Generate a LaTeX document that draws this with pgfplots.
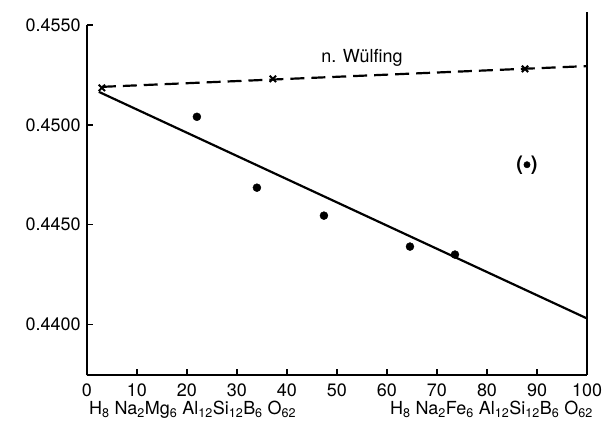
\documentclass[border=0pt]{standalone}
\usepackage{fontspec}
\setmainfont{TeX Gyre Heros}
\usepackage{pgfplots}
\pgfplotsset{compat=1.18}
\begin{document}
\fontsize{18}{20}\selectfont
\begin{tikzpicture}
\begin{axis}[
  scale only axis, width=501pt, height=351pt,
  xmin=0, xmax=100, ymin=0.43745, ymax=0.4550,
  axis x line=bottom, axis y line=left,
  axis line style={-, line width=2pt},
  xtick={0,10,...,100}, ytick={0.440,0.445,0.450,0.455},
  tick align=inside, major tick length=6pt,
  tick style={line width=1.6pt, black},
  scaled y ticks=false,
  yticklabel style={/pgf/number format/.cd, fixed, fixed zerofill, precision=4},
  /pgf/number format/assume math mode=true,
  ticklabel style={font=\fontsize{18}{20}\selectfont},
  xticklabel style={yshift=-2pt},
  clip=false,
]
\addplot[line width=2.2pt, dash pattern=on 14pt off 7pt] coordinates {(3,0.45190) (100,0.45294)};
\addplot[line width=2.2pt] coordinates {(2.4,0.45165) (100,0.4403)};
\addplot[only marks, mark=x, mark size=4.5pt, mark options={line width=2pt}] coordinates {(3,0.45185) (37.2,0.4523) (87.6,0.4528)};
\addplot[only marks, mark=*, mark size=4pt] coordinates {(22,0.4504) (34,0.44685) (47.4,0.44545) (64.6,0.4439) (73.6,0.4435)};
\addplot[only marks, mark=*, mark size=3.2pt, nodes near coords={(\hspace{8pt})},
  every node near coord/.append style={anchor=center, font=\fontsize{20}{22}\selectfont\bfseries}] coordinates {(88,0.4480)};
\addplot[line width=2pt] coordinates {(100,0.43745) (100,0.45565)};
\node at (axis cs:55,0.45335) {n. Wülfing};
\node[yshift=-34pt, anchor=west, xshift=-4pt] at (axis cs:0,0.43745) {H\textsubscript{8} Na\textsubscript{2}Mg\textsubscript{6} Al\textsubscript{12}Si\textsubscript{12}B\textsubscript{6} O\textsubscript{62}};
\node[yshift=-34pt, anchor=east, xshift=12pt] at (axis cs:100,0.43745) {H\textsubscript{8} Na\textsubscript{2}Fe\textsubscript{6} Al\textsubscript{12}Si\textsubscript{12}B\textsubscript{6} O\textsubscript{62}};
\coordinate (ll) at (rel axis cs:0,0);
\coordinate (ur) at (rel axis cs:1,1);
\end{axis}
\pgfresetboundingbox
\path ([shift={(-87pt,-47pt)}]ll) rectangle ([shift={(15pt,25pt)}]ur);
\end{tikzpicture}
\end{document}
